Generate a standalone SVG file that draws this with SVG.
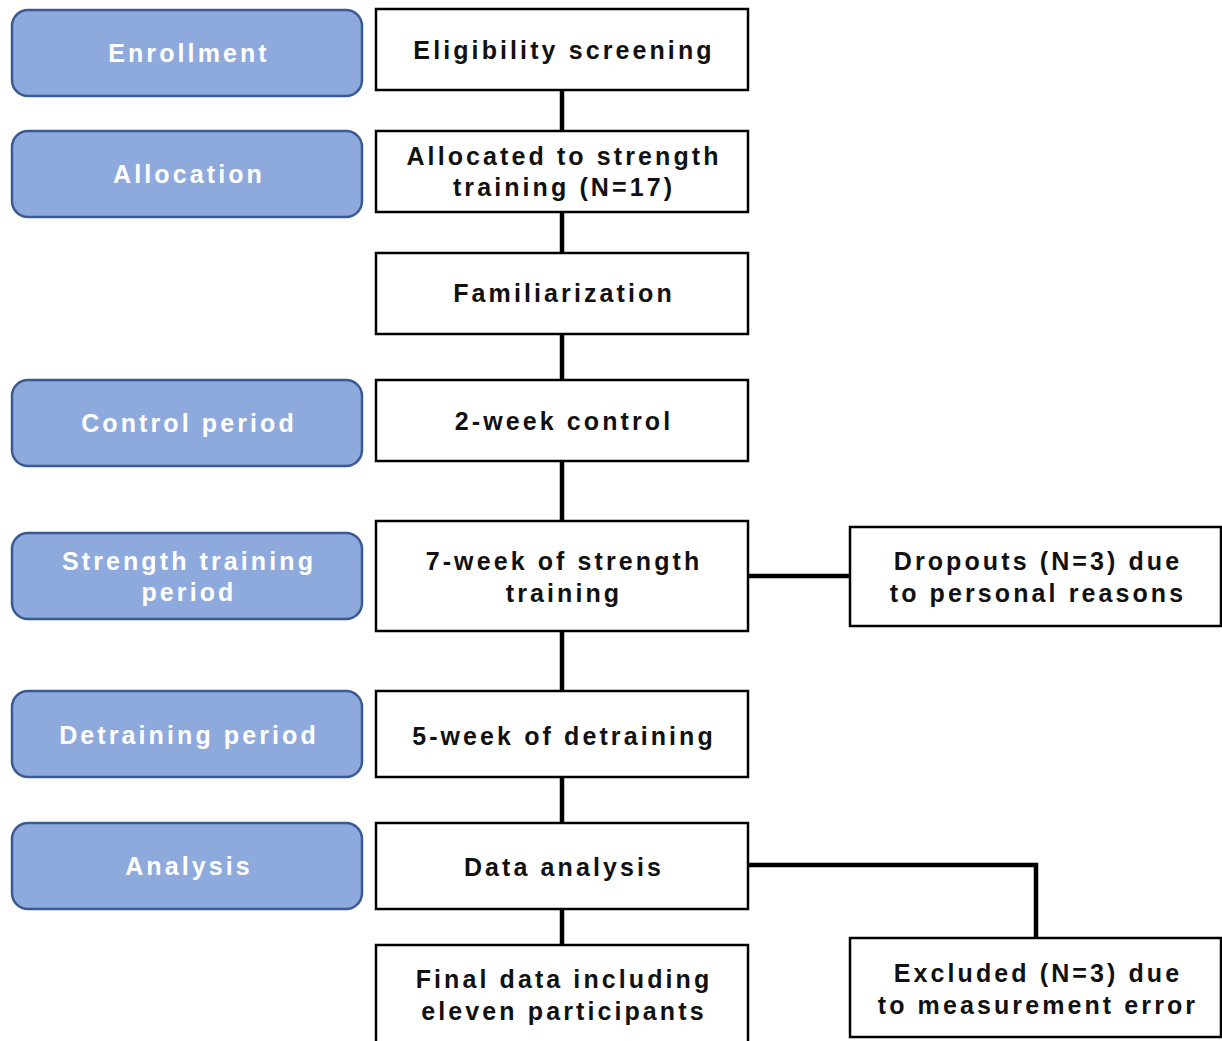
<svg xmlns="http://www.w3.org/2000/svg" width="1222" height="1041" viewBox="0 0 1222 1041">
<style>
.phase{fill:#8eaadc;stroke:#3a5a94;stroke-width:2.5}
.box{fill:#ffffff;stroke:#000000;stroke-width:2.5}
.pt{font-family:"Liberation Sans",Arial,sans-serif;font-weight:bold;font-size:25px;fill:#ffffff;text-anchor:middle;letter-spacing:3.1px}
.bt{font-family:"Liberation Sans",Arial,sans-serif;font-weight:bold;font-size:25px;fill:#111111;text-anchor:middle;letter-spacing:3.1px}
.conn{stroke:#000000;stroke-width:4.5;fill:none}
</style>
<rect width="1222" height="1041" fill="#ffffff"/>
<g id="connectors">
<line class="conn" x1="562" y1="90" x2="562" y2="131"/>
<line class="conn" x1="562" y1="212" x2="562" y2="253"/>
<line class="conn" x1="562" y1="334" x2="562" y2="380"/>
<line class="conn" x1="562" y1="461" x2="562" y2="521"/>
<line class="conn" x1="562" y1="631" x2="562" y2="691"/>
<line class="conn" x1="562" y1="777" x2="562" y2="823"/>
<line class="conn" x1="562" y1="909" x2="562" y2="945"/>
<line class="conn" x1="748" y1="576" x2="850" y2="576"/>
<polyline class="conn" points="748,865 1036,865 1036,938"/>
</g>
<g id="enrollment"><rect class="phase" x="12" y="10" width="350" height="86" rx="16"/><text class="pt" x="189" y="62">Enrollment</text></g>
<g id="allocation"><rect class="phase" x="12" y="131" width="350" height="86" rx="16"/><text class="pt" x="189" y="183">Allocation</text></g>
<g id="control-period"><rect class="phase" x="12" y="380" width="350" height="86" rx="16"/><text class="pt" x="189" y="432">Control period</text></g>
<g id="strength-period"><rect class="phase" x="12" y="533" width="350" height="86" rx="16"/><text class="pt" x="189" y="570">Strength training</text><text class="pt" x="189" y="601">period</text></g>
<g id="detraining-period"><rect class="phase" x="12" y="691" width="350" height="86" rx="16"/><text class="pt" x="189" y="744">Detraining period</text></g>
<g id="analysis"><rect class="phase" x="12" y="823" width="350" height="86" rx="16"/><text class="pt" x="189" y="875">Analysis</text></g>

<g id="eligibility"><rect class="box" x="376" y="9" width="372" height="81"/><text class="bt" x="564" y="59">Eligibility screening</text></g>
<g id="allocated"><rect class="box" x="376" y="131" width="372" height="81"/><text class="bt" x="564" y="165">Allocated to strength</text><text class="bt" x="564" y="196">training (N=17)</text></g>
<g id="familiarization"><rect class="box" x="376" y="253" width="372" height="81"/><text class="bt" x="564" y="302">Familiarization</text></g>
<g id="control"><rect class="box" x="376" y="380" width="372" height="81"/><text class="bt" x="564" y="430">2-week control</text></g>
<g id="training"><rect class="box" x="376" y="521" width="372" height="110"/><text class="bt" x="564" y="570">7-week of strength</text><text class="bt" x="564" y="602">training</text></g>
<g id="dropouts"><rect class="box" x="850" y="527" width="371" height="99"/><text class="bt" x="1038" y="570">Dropouts (N=3) due</text><text class="bt" x="1038" y="602">to personal reasons</text></g>
<g id="detraining"><rect class="box" x="376" y="691" width="372" height="86"/><text class="bt" x="564" y="745">5-week of detraining</text></g>
<g id="data-analysis"><rect class="box" x="376" y="823" width="372" height="86"/><text class="bt" x="564" y="876">Data analysis</text></g>
<g id="final"><rect class="box" x="376" y="945" width="372" height="110"/><text class="bt" x="564" y="988">Final data including</text><text class="bt" x="564" y="1020">eleven participants</text></g>
<g id="excluded"><rect class="box" x="850" y="938" width="371" height="99"/><text class="bt" x="1038" y="982">Excluded (N=3) due</text><text class="bt" x="1038" y="1014">to measurement error</text></g>
</svg>
